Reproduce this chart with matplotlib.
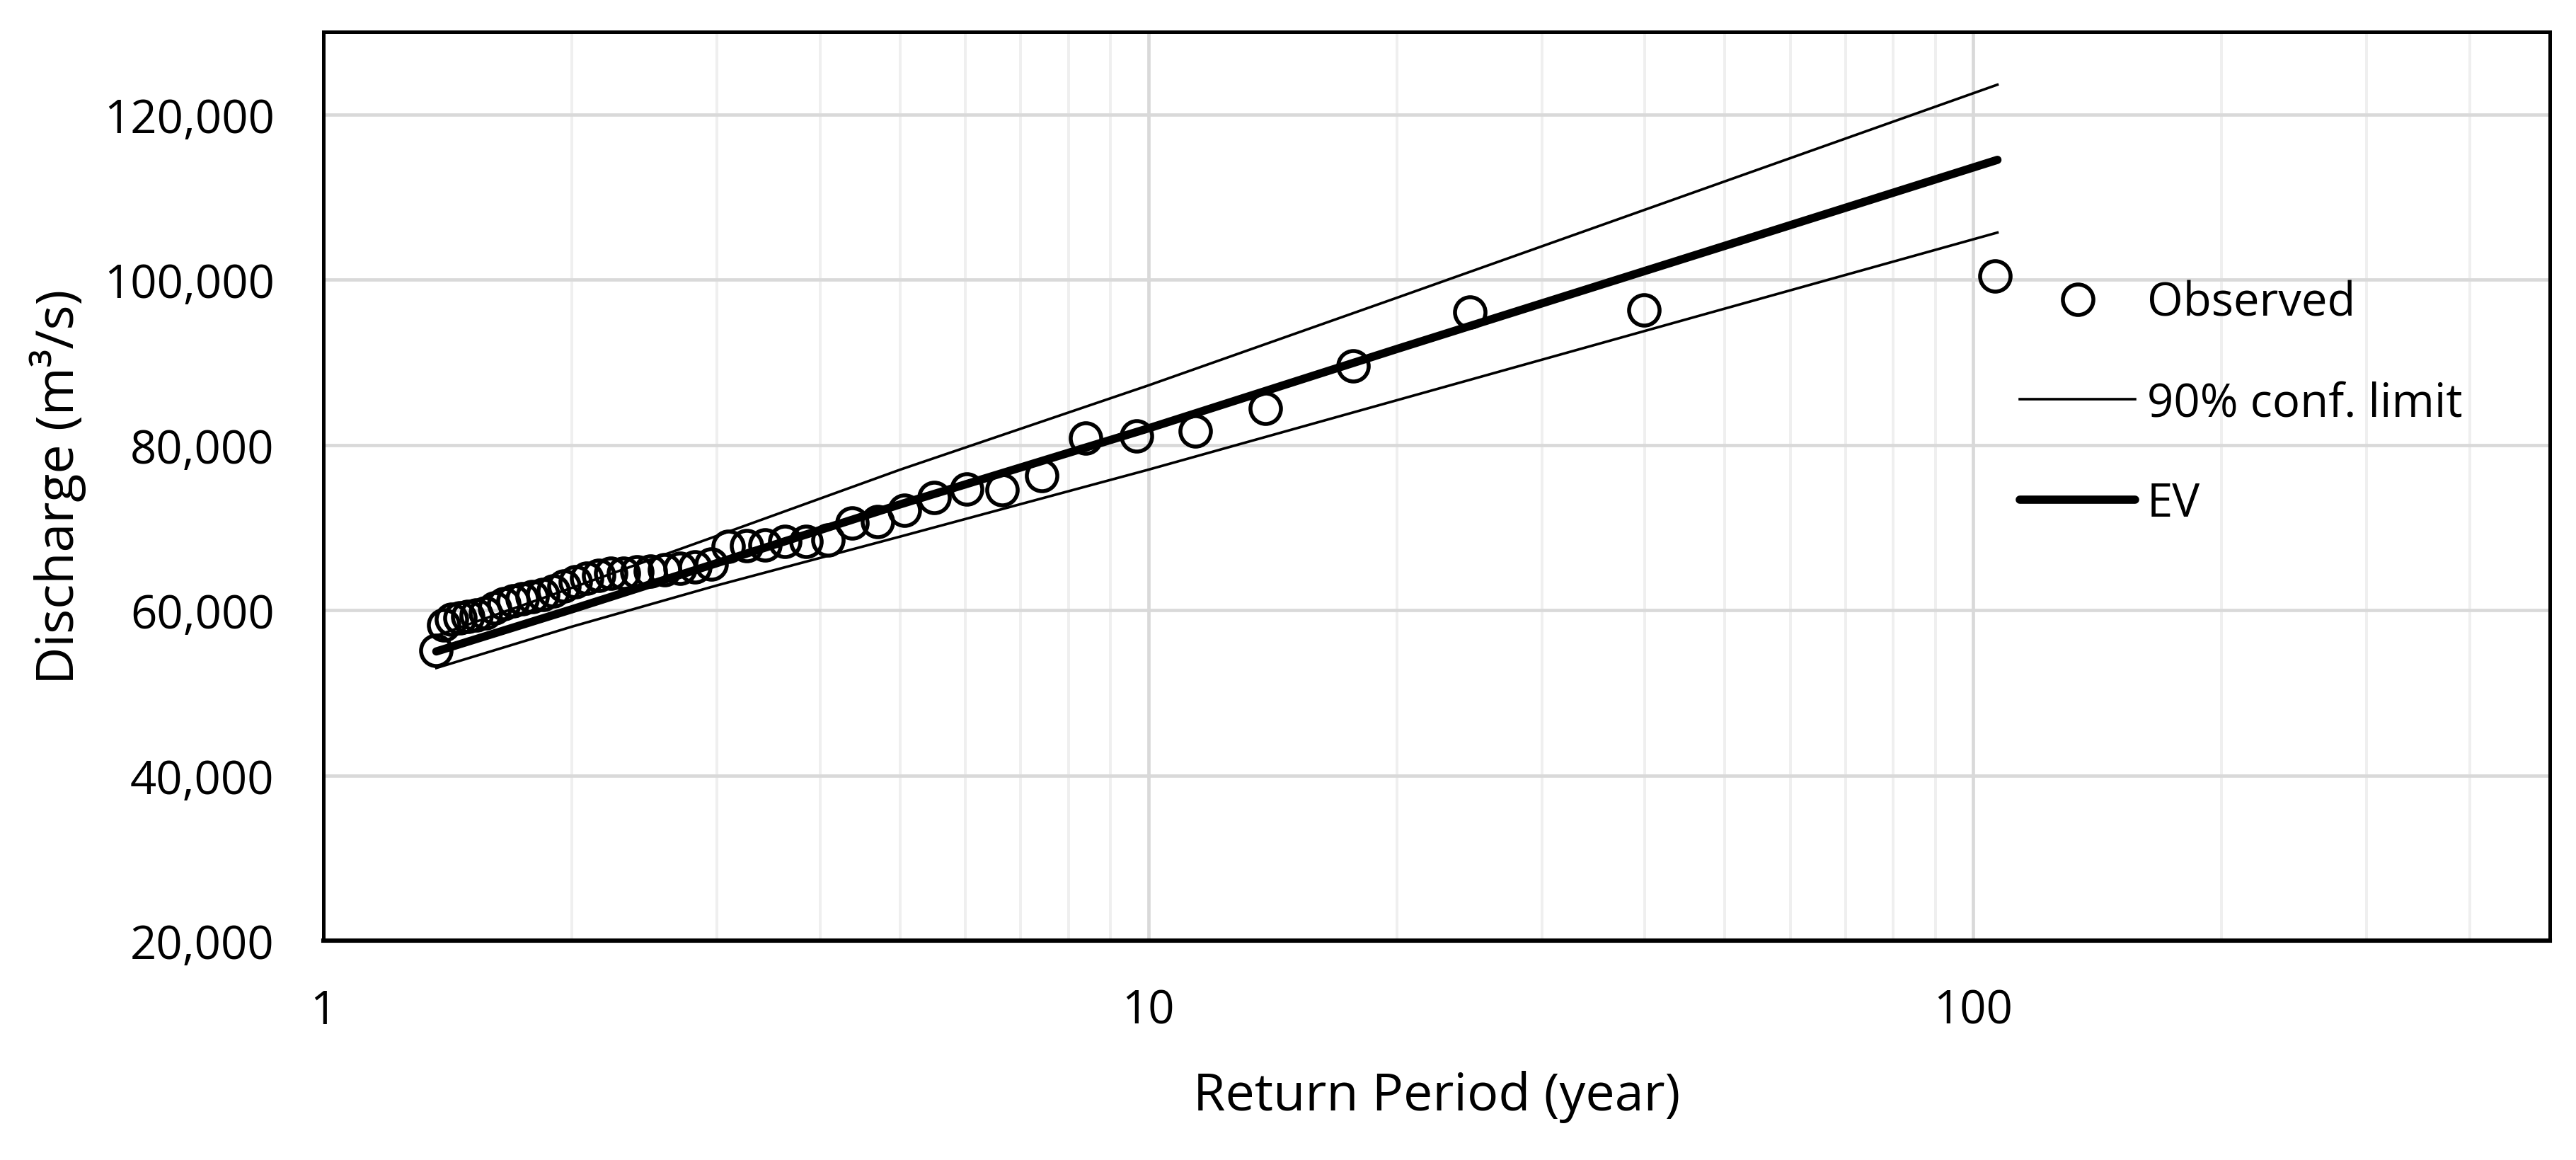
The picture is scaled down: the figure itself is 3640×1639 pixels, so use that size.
import matplotlib
matplotlib.use("Agg")
import matplotlib.pyplot as plt
from matplotlib.ticker import FixedLocator, FuncFormatter, LogLocator, NullFormatter

plt.rcParams["font.family"] = ["Open Sans", "DejaVu Sans"]

# observed floods, return period (year) vs discharge (m3/s)
obs_T = [106.3, 39.88, 24.54, 17.72, 13.87, 11.39, 9.667, 8.395, 7.419, 6.646,
         6.019, 5.500, 5.063, 4.691, 4.370, 4.090, 3.843, 3.625, 3.430, 3.255,
         3.097, 2.954, 2.823, 2.703, 2.593, 2.492, 2.398, 2.311, 2.231, 2.155,
         2.085, 2.019, 1.957, 1.899, 1.844, 1.792, 1.743, 1.697, 1.653, 1.611,
         1.571, 1.533, 1.497, 1.463, 1.430, 1.399, 1.369]
obs_Q = [100400, 96300, 96100, 89600, 84400, 81700, 81050, 80800, 76250, 74600,
         74650, 73650, 72100, 70750, 70550, 68500, 68350, 68300, 67850, 67800,
         67700, 65600, 65200, 65050, 64900, 64700, 64600, 64500, 64450, 64200,
         63900, 63450, 62900, 62350, 61900, 61600, 61400, 61100, 60750, 60300,
         59650, 59450, 59200, 59050, 58900, 58250, 55150]

# fitted EV curve and 90% confidence limits
fit_T = [1.37, 2, 3, 5, 10, 20, 50, 107]
ev_Q = [55000, 60100, 65700, 72800, 82000, 91600, 104100, 114500]
upper_Q = [56900, 62700, 69000, 77000, 87200, 97800, 111900, 123600]
lower_Q = [53000, 58000, 63000, 68900, 77000, 85400, 96500, 105700]

y_ticks = [20000, 40000, 60000, 80000, 100000, 120000]
x_ticks = [1, 10, 100]

FS = 23.5
LABEL_FS = 26.5

fig, ax = plt.subplots(figsize=(18.2, 8.2), dpi=200)
fig.subplots_adjust(left=0.1256, right=0.9898, top=0.972, bottom=0.189)

ax.plot(obs_T, obs_Q, linestyle="none", marker="o", ms=15.5, mfc="none",
        mec="black", mew=2.0, label="Observed", zorder=4)
ax.plot(fit_T, upper_Q, color="black", lw=1.3, label="90% conf. limit", zorder=3)
ax.plot(fit_T, lower_Q, color="black", lw=1.3, zorder=3)
ax.plot(fit_T, ev_Q, color="black", lw=4.2, solid_capstyle="round", label="EV", zorder=3)

ax.set_xscale("log")
ax.set_xlim(1, 500)
ax.set_ylim(20000, 130000)

ax.xaxis.set_major_locator(FixedLocator(x_ticks))
ax.xaxis.set_major_formatter(FuncFormatter(lambda v, p: f"{v:g}"))
ax.xaxis.set_minor_locator(LogLocator(base=10, subs=range(2, 10)))
ax.xaxis.set_minor_formatter(NullFormatter())
ax.yaxis.set_major_locator(FixedLocator(y_ticks))
ax.yaxis.set_major_formatter(FuncFormatter(lambda v, p: f"{v:,.0f}"))

ax.grid(True, which="major", color="#d9d9d9", lw=1.7, zorder=0)
ax.grid(True, which="minor", axis="x", color="#efefef", lw=1.4, zorder=0)
ax.set_axisbelow(True)

ax.tick_params(which="both", length=0)
ax.tick_params(axis="y", labelsize=FS, pad=25)
ax.tick_params(axis="x", labelsize=FS, pad=24)

for side in ["left", "top", "right"]:
    ax.spines[side].set_linewidth(1.8)
    ax.spines[side].set_color("black")
ax.spines["bottom"].set_linewidth(2.2)

ax.set_xlabel("Return Period (year)", fontsize=LABEL_FS, labelpad=18)
ax.set_ylabel("Discharge (m³/s)", fontsize=LABEL_FS, labelpad=9)

ax.legend(loc="center left", bbox_to_anchor=(0.762, 0.591), frameon=False,
          fontsize=FS, borderpad=0, borderaxespad=0, handlelength=2.5,
          handletextpad=0.25, labelspacing=1.16)

fig.savefig("out.png", dpi=200)
